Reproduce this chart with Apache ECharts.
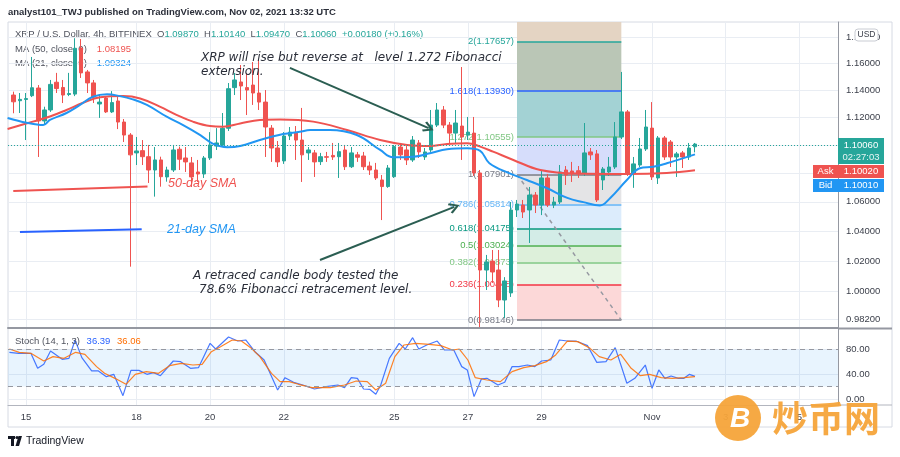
<!DOCTYPE html>
<html><head><meta charset="utf-8">
<script src="https://cdn.jsdelivr.net/npm/echarts@6/dist/echarts.min.js"></script>
<style>html,body{margin:0;padding:0;background:#fff}#c{width:900px;height:457px}</style>
</head><body><div id="c"></div>
<script>
const FONT = 'Liberation Sans, Arial, sans-serif';
const NOTE_FONT = '"DejaVu Sans", sans-serif';
// ---------- candles (4h bars, bar 0 = Oct 15 00:00) ----------
const firstBar = -2;
const opens = [1.1363,1.1321,1.1330,1.1358,1.1415,1.1173,1.1253,1.1458,1.1419,1.1367,1.1370,1.1716,1.1535,1.1453,1.1297,1.1341,1.1239,1.1319,1.1165,1.1071,1.0943,1.0959,1.0916,1.0822,1.0893,1.0773,1.0822,1.0969,1.0907,1.0872,1.0808,1.0794,1.0907,1.0992,1.1000,1.1120,1.1418,1.1460,1.1418,1.1437,1.1378,1.1311,1.1121,1.0978,1.0886,1.1064,1.1085,1.1035,1.0943,1.0943,1.0881,1.0916,1.0925,1.0916,1.0964,1.0845,1.0929,1.0921,1.0850,1.0822,1.0752,1.0706,1.0775,1.0985,1.0964,1.0893,1.1014,1.0914,1.0964,1.1143,1.1253,1.1143,1.1085,1.1136,1.1071,1.1085,1.0801,1.0140,1.0199,1.0140,0.9944,0.9990,1.0544,1.0578,1.0544,1.0647,1.0578,1.0766,1.0578,1.0599,1.0822,1.0815,1.0817,1.0801,1.0950,1.0936,1.0752,1.0808,1.0843,1.1057,1.1239,1.0801,1.0857,1.0971,1.1121,1.0766,1.1050,1.1021,1.0914,1.0943,1.0914,1.0987];
const highs = [1.1388,1.1378,1.1378,1.1648,1.1437,1.1277,1.1475,1.1528,1.1475,1.1528,1.1791,1.1785,1.1550,1.1475,1.1363,1.1355,1.1392,1.1348,1.1187,1.1085,1.1057,1.1035,1.1000,1.0985,1.0916,1.0845,1.1000,1.0988,1.0985,1.0914,1.0893,1.0921,1.1092,1.1121,1.1231,1.1452,1.1528,1.1587,1.1528,1.1610,1.1625,1.1400,1.1143,1.1028,1.1092,1.1129,1.1136,1.1268,1.0985,1.0964,1.0943,1.0950,1.1014,1.1014,1.1000,1.0985,1.0950,1.0950,1.0881,1.0872,1.0787,1.0857,1.1000,1.1014,1.0992,1.1064,1.1035,1.0978,1.1253,1.1304,1.1282,1.1165,1.1253,1.1572,1.1202,1.1202,1.0822,1.0240,1.0273,1.0273,1.0093,1.0599,1.0613,1.0613,1.0703,1.0668,1.0822,1.0794,1.0634,1.0857,1.0850,1.0879,1.0850,1.1158,1.0978,1.0964,1.0843,1.0914,1.1165,1.1535,1.1253,1.0914,1.1050,1.1253,1.1311,1.1064,1.1064,1.1035,1.0950,1.0957,1.1014,1.1014];
const lows = [1.1229,1.1231,1.1035,1.1348,1.0914,1.1143,1.1239,1.1378,1.1304,1.1355,1.1355,1.1490,1.1378,1.1304,1.1195,1.1231,1.1231,1.1114,1.1021,1.0162,1.0857,1.0857,1.0731,1.0636,1.0705,1.0740,1.0808,1.0822,1.0808,1.0703,1.0738,1.0766,1.0893,1.0964,1.0985,1.1100,1.1363,1.1326,1.1216,1.1290,1.1253,1.0914,1.0879,1.0843,1.0865,1.1035,1.0893,1.0738,1.0893,1.0773,1.0857,1.0879,1.0893,1.0766,1.0822,1.0836,1.0879,1.0822,1.0787,1.0752,1.0475,1.0697,1.0766,1.0893,1.0857,1.0879,1.0907,1.0893,1.0950,1.1129,1.1121,1.1014,1.1014,1.0893,1.1035,1.0780,0.9770,1.0009,1.0055,0.9898,0.9828,0.9964,1.0496,1.0489,1.0320,1.0523,1.0509,1.0564,1.0557,1.0585,1.0717,1.0738,1.0766,1.0780,1.0893,1.0599,1.0682,1.0780,1.0829,1.1042,1.0780,1.0697,1.0843,1.0957,1.0752,1.0724,1.0893,1.0843,1.0773,1.0836,1.0893,1.0947];
const closes = [1.1313,1.1331,1.1337,1.1417,1.1173,1.1253,1.1442,1.1411,1.1363,1.1374,1.1714,1.1528,1.1453,1.1348,1.1311,1.1239,1.1307,1.1165,1.1071,1.0929,1.0957,1.0916,1.0822,1.0893,1.0775,1.0822,1.0964,1.0898,1.0879,1.0773,1.0794,1.0907,1.1000,1.1014,1.1120,1.1410,1.1475,1.1430,1.1400,1.1378,1.1311,1.1129,1.0978,1.0879,1.1064,1.1092,1.1035,1.0929,1.0964,1.0879,1.0916,1.0912,1.0914,1.0952,1.0845,1.0943,1.0912,1.0845,1.0822,1.0766,1.0706,1.0836,1.0988,1.0929,1.0893,1.1035,1.0950,1.0950,1.1143,1.1253,1.1143,1.1085,1.1158,1.1057,1.1092,1.0801,1.0140,1.0193,1.0127,0.9944,1.0068,1.0544,1.0585,1.0530,1.0647,1.0578,1.0766,1.0578,1.0599,1.0808,1.0787,1.0794,1.0794,1.0943,1.0929,1.0613,1.0829,1.0843,1.1057,1.1239,1.0801,1.0865,1.0971,1.1129,1.0773,1.1050,1.0914,1.0914,1.0936,1.0914,1.0978,1.1006];
// ---------- moving averages ----------
const ma50Idx = [-3,1.1,3.9,6.6,9.3,12.1,15.8,18.6,21.8,24.6,27.2,30,32.1,34.9,38.1,41.4,46.8,52.3,57.7,62.1,65.8,68.6,71.9,74,76.1,79.4,83.8,89.8,97.9,104.4,109];
const ma50 = [1.1115,1.1168,1.1205,1.1253,1.1306,1.1346,1.1355,1.1338,1.1277,1.1216,1.1168,1.1136,1.1131,1.1155,1.1180,1.1183,1.1168,1.1107,1.1035,1.1000,1.0992,1.1007,1.1012,1.0988,1.0952,1.0893,1.0822,1.0797,1.0794,1.0801,1.08195];
const ma21Idx = [-3,0.1,2.8,3.9,6.6,8.8,10.9,13.2,15.3,17.4,19.7,23,25.6,28.4,30.5,32.8,34.9,38.1,41.9,44.6,46.3,49.5,53.9,57.7,59.8,63.1,65.8,68.6,71.9,74,75.5,78.9,81.6,84.9,88.2,90.8,93.5,95.2,97.9,100,102.2,104.4,109];
const ma21 = [1.1195,1.1160,1.1143,1.1180,1.1231,1.1290,1.1350,1.1368,1.1355,1.1331,1.1290,1.1202,1.1143,1.1071,1.1007,1.0983,1.0992,1.1035,1.1078,1.1094,1.1107,1.1107,1.1071,1.0964,1.0912,1.0916,1.0940,1.0969,1.0976,1.0958,1.0870,1.0797,1.0752,1.0694,1.0627,1.0598,1.0575,1.0627,1.0752,1.0834,1.0845,1.0869,1.09324];
// ---------- stochastic (14,1,3) ----------
const stochKIdx = [-2.7,-1.2,0.8,1.9,2.9,4,5.9,7,8,9.1,10.7,11.8,13.1,14.3,15.8,17.1,18.4,19.7,20.8,21.9,24,25.2,26.8,28.1,30,30.9,33,34.5,35.8,37.3,38.8,41,42.2,43.6,45.1,47,48.9,50.8,51.9,53,54,55,56,57,57.8,59.2,60.8,61.8,63,64,65.3,67,68.2,69.7,71,71.9,73,74.2,75.1,76.9,78,79.2,80.3,81.7,82.9,84,85.5,86.9,88.2,89.6,91.5,93,94.5,96,97.9,99.2,100.9,102,103.1,104.1,105.1,106.3,107.2,108.1,109];
const stochK = [75.3,73.7,73.7,49.5,55.9,77.4,64,65.6,95.2,66.7,45.2,45.2,36,39.8,5.4,46.2,46.2,39.8,42.5,37.6,61.3,60.2,49.5,50.5,89.8,80.6,100,93.5,95.2,76.3,62.9,14.5,34.4,26.9,22.6,16.1,19.9,22.6,18.3,34.4,33.3,16.1,15.6,7.5,22.6,65.6,89.8,80.6,98.9,80.6,87.1,93.5,79,79,52.2,46.8,3.8,32.3,33.3,22.6,26.9,52.2,52.2,54.8,52.2,61.3,62.9,95.2,93.5,93.5,86,59.1,60.2,82.8,25.3,33.3,54.8,17.2,46.8,33.3,37.1,33.3,33.3,39.8,36.39];
const stochDIdx = [-2.7,-1.1,0.8,2.9,4.4,6.2,8.1,9.6,11.5,12.8,14.5,16.3,17.8,19.6,21.6,23.4,25.3,27.2,28.7,30.2,31.7,33.6,35.1,36.6,38.1,40,41.4,42.9,44.4,46.6,49.6,51.9,53.8,55.6,57,58.6,60.1,61.6,63.5,65.7,67.6,69.5,70.6,72,73.2,75.1,77.3,79.2,81.1,82.9,84.8,86.3,88.2,89.9,91.9,93.4,95.3,96.9,98.6,100.1,101.6,103.5,105.3,107.2,109];
const stochD = [80.6,75.3,73.7,61.3,68.3,65.6,75.3,72,52.2,41.4,33.3,23.7,39.8,44.1,41.4,53.8,57.5,54.8,55.9,76.3,84.4,95.2,93.5,82.8,68.3,41.4,28,28,23.7,18.3,18.3,22.6,29,28,14.5,25.3,68.3,87.1,89.8,88.2,86,79,80.6,62.9,34.4,30.6,28,44.1,50.5,53.8,60.2,71,93.5,92.5,81.7,68.3,62.9,72,49.5,37.6,39.8,34.4,33.3,34.4,36.06];
// ---------- fibonacci drawing ----------
const fibStart = 80, fibEnd = 97;
const fibLevels = [2, 1.618, 1.272, 1, 0.786, 0.618, 0.5, 0.382, 0.236, 0];
const fibPrices = [1.17657, 1.13930, 1.10555, 1.07901, 1.05814, 1.04175, 1.03024, 1.01873, 1.00448, 0.98146];
const fibLineColors = ['#26a69a','#2962ff','#81c784','#787b86','#64b5f6','#089981','#4caf50','#81c784','#f23645','#787b86'];
const fibFills = ['#bac6b6','#a3d2d4','#d6ddfb','#e4e4e6','#dcecfc','#d3ece7','#ddf0da','#e8f5e5','#fcd8d8'];
const fibTopFill = '#e4d4c3';
// ---------- axes ----------
const xMin = -2.93, xMax = 132.3;
const dayTicks = [0, 18, 30, 42, 60, 72, 84, 102, 114, 126];
const dayLabels = ['15','18','20','22','25','27','29','Nov','3','5'];
const yMin = 0.97645, yMax = 1.19161;
const priceTicks = [0.982, 1.00, 1.02, 1.04, 1.06, 1.08, 1.10, 1.12, 1.14, 1.16, 1.18];
const stochTicks = [0, 40, 80];
const lastPrice = 1.1006;
// annotations (bar index, price)
const arrowUp = [[43.0, 1.1565], [65.6, 1.1121]];
const arrowDown = [[47.9, 1.0206], [69.8, 1.0565]];
const sma50Mark = [[-2.07, 1.0675], [19.8, 1.0706]];
const sma21Mark = [[-0.98, 1.0394], [18.85, 1.0413]];
const trendLine = [[80, 1.07901], [97, 0.98146]];

const GRID = '#e9edf3';
const candleData = opens.map((o, k) => [firstBar + k, o, closes[k], lows[k], highs[k]]);
const pairs = (a, b) => a.map((v, k) => [v, b[k]]);

const fibAreas = [[{xAxis: fibStart, yAxis: yMax, itemStyle: {color: fibTopFill}}, {xAxis: fibEnd, yAxis: fibPrices[0]}]]
  .concat(fibFills.map((c, k) => [{xAxis: fibStart, yAxis: fibPrices[k], itemStyle: {color: c}}, {xAxis: fibEnd, yAxis: fibPrices[k + 1]}]));
const fibLines = fibLevels.map((lv, k) => [
  {coord: [fibStart, fibPrices[k]], lineStyle: {color: fibLineColors[k]},
   label: {color: fibLineColors[k], formatter: lv + '(' + fibPrices[k].toFixed(5) + ')'}},
  {coord: [fibEnd, fibPrices[k]]}
]);
const chevron = 'path://M5,0 L10,8 L8.5,9.3 L5,3.2 L1.5,9.3 L0,8 Z';

const chart = echarts.init(document.getElementById('c'), null, {renderer: 'canvas'});
const axisLabelStyle = {color: '#3b3f4a', fontSize: 9.5, fontFamily: FONT};
chart.setOption({
  animation: false,
  backgroundColor: '#ffffff',
  grid: [
    {left: 8, top: 22, width: 830, height: 306},
    {left: 8, top: 329, width: 830, height: 76}
  ],
  xAxis: [
    {gridIndex: 0, type: 'value', min: xMin, max: xMax,
     axisLine: {show: true, onZero: false, lineStyle: {color: '#9598a1', width: 2}},
     axisTick: {show: false, customValues: dayTicks}, axisLabel: {show: false},
     splitLine: {show: true, lineStyle: {color: GRID}}},
    {gridIndex: 1, type: 'value', min: xMin, max: xMax,
     axisLine: {show: true, onZero: false, lineStyle: {color: '#b2b5be', width: 1}},
     axisTick: {show: false, customValues: dayTicks},
     axisLabel: Object.assign({customValues: dayTicks, margin: 7,
       formatter: v => dayLabels[dayTicks.indexOf(Math.round(v))]}, axisLabelStyle),
     splitLine: {show: true, lineStyle: {color: GRID}}}
  ],
  yAxis: [
    {gridIndex: 0, type: 'log', logBase: 10, min: yMin, max: yMax, position: 'right',
     axisLine: {show: true, onZero: false, lineStyle: {color: '#9598a1'}},
     axisTick: {show: false, customValues: priceTicks},
     axisLabel: Object.assign({customValues: priceTicks, margin: 8, formatter: v => Number(v).toFixed(5)}, axisLabelStyle),
     splitLine: {show: true, lineStyle: {color: GRID}}},
    {gridIndex: 1, type: 'value', min: -9.7, max: 112.9, position: 'right',
     axisLine: {show: true, onZero: false, lineStyle: {color: '#9598a1'}},
     axisTick: {show: false, customValues: stochTicks},
     axisLabel: Object.assign({customValues: stochTicks, margin: 8, formatter: v => Number(v).toFixed(2)}, axisLabelStyle),
     splitLine: {show: true, lineStyle: {color: GRID}}}
  ],
  series: [
    {type: 'line', name: 'fib', xAxisIndex: 0, yAxisIndex: 0, data: [], z: 1, silent: true,
     markArea: {silent: true, z: 1, data: fibAreas},
     markLine: {silent: true, z: 1, symbol: ['none', 'none'],
       lineStyle: {type: 'solid', width: 1.5},
       label: {show: true, position: 'start', distance: 3, fontSize: 9.5, fontFamily: FONT, padding: [0, 0, 12, 0]},
       data: fibLines.concat([[
         {coord: trendLine[0], lineStyle: {color: '#9598a1', type: [4, 4], width: 1.5}, label: {show: false}},
         {coord: trendLine[1]}]])
     }},
    {type: 'candlestick', name: 'XRPUSD', xAxisIndex: 0, yAxisIndex: 0, data: candleData,
     encode: {x: 0, y: [1, 2, 3, 4]}, barWidth: 4, z: 3,
     itemStyle: {color: '#26a69a', color0: '#ef5350', borderColor: '#26a69a', borderColor0: '#ef5350', borderWidth: 1},
     markLine: {silent: true, symbol: ['none', 'none'], label: {show: false},
       lineStyle: {color: '#26a69a', type: [1, 2], width: 1},
       data: [{yAxis: lastPrice}]}},
    {type: 'line', name: 'MA50', xAxisIndex: 0, yAxisIndex: 0, data: pairs(ma50Idx, ma50), smooth: 0.4,
     showSymbol: false, z: 4, lineStyle: {color: '#ef5350', width: 2}},
    {type: 'line', name: 'MA21', xAxisIndex: 0, yAxisIndex: 0, data: pairs(ma21Idx, ma21), smooth: 0.4,
     showSymbol: false, z: 4, lineStyle: {color: '#2196f3', width: 2}},
    {type: 'line', name: 'notes', xAxisIndex: 0, yAxisIndex: 0, data: [], z: 6, silent: true,
     markLine: {silent: true, z: 6, symbol: ['none', 'none'], label: {show: false},
       data: [
         [{coord: sma50Mark[0], lineStyle: {color: '#ef5350', width: 2, type: 'solid'}}, {coord: sma50Mark[1]}],
         [{coord: sma21Mark[0], lineStyle: {color: '#2962ff', width: 2, type: 'solid'}}, {coord: sma21Mark[1]}]
       ]}},
    {type: 'line', name: 'arrows', xAxisIndex: 0, yAxisIndex: 0, data: [], z: 6, silent: true,
     markLine: {silent: true, z: 6, symbol: ['none', chevron], symbolSize: [11, 11], label: {show: false},
       lineStyle: {color: '#2b5e52', width: 2, type: 'solid'},
       data: [
         [{coord: arrowUp[0]}, {coord: arrowUp[1]}],
         [{coord: arrowDown[0]}, {coord: arrowDown[1]}]
       ]}},
    {type: 'line', name: '%K', xAxisIndex: 1, yAxisIndex: 1, data: pairs(stochKIdx, stochK),
     showSymbol: false, z: 4, lineStyle: {color: '#2962ff', width: 1.2, opacity: 0.85},
     markArea: {silent: true, itemStyle: {color: 'rgba(33,150,243,0.10)'},
       data: [[{xAxis: xMin, yAxis: 20}, {xAxis: xMax, yAxis: 80}]]},
     markLine: {silent: true, symbol: ['none', 'none'], label: {show: false},
       lineStyle: {color: '#9598a1', type: [5, 4], width: 1},
       data: [{yAxis: 80}, {yAxis: 20}]}},
    {type: 'line', name: '%D', xAxisIndex: 1, yAxisIndex: 1, data: pairs(stochDIdx, stochD),
     showSymbol: false, z: 4, lineStyle: {color: '#ff6d00', width: 1.2, opacity: 0.85}}
  ],
  graphic: [
    {type: 'rect', z: 0, shape: {x: 8, y: 22, width: 884, height: 405}, style: {fill: 'none', stroke: '#d6dae3', lineWidth: 1}},
    {type: 'line', z: 0, shape: {x1: 838, y1: 328.5, x2: 892, y2: 328.5}, style: {stroke: '#9598a1', lineWidth: 2}},
    {type: 'line', z: 0, shape: {x1: 838, y1: 405, x2: 892, y2: 405}, style: {stroke: '#b2b5be', lineWidth: 1}},
    {type: 'text', z: 0, x: 8, y: 12, style: {text: 'analyst101_TWJ published on TradingView.com, Nov 02, 2021 13:32 UTC',
      font: 'bold 9.5px ' + FONT, fill: '#2a2e39', verticalAlign: 'middle'}},
    {type: 'text', z: 0, x: 15, y: 34, style: {
      text: '{g|XRP / U.S. Dollar, 4h, BITFINEX}  {g|O}{v|1.09870}  {g|H}{v|1.10140}  {g|L}{v|1.09470}  {g|C}{v|1.10060}  {v|+0.00180 (+0.16%)}',
      verticalAlign: 'middle', font: '9.5px ' + FONT,
      rich: {g: {fill: '#50535e', font: '9.5px ' + FONT}, v: {fill: '#26a69a', font: '9.5px ' + FONT}}}},
    {type: 'text', z: 0, x: 15, y: 49, style: {text: '{g|MA (50, close, 0)}   {r|1.08195}', verticalAlign: 'middle',
      rich: {g: {fill: '#50535e', font: '9.5px ' + FONT}, r: {fill: '#ef5350', font: '9.5px ' + FONT}}}},
    {type: 'text', z: 0, x: 15, y: 63, style: {text: '{g|MA (21, close, 0)}   {b|1.09324}', verticalAlign: 'middle',
      rich: {g: {fill: '#50535e', font: '9.5px ' + FONT}, b: {fill: '#2196f3', font: '9.5px ' + FONT}}}},
    {type: 'text', z: 10, x: 15, y: 341, style: {text: '{g|Stoch (14, 1, 3)}  {b|36.39}  {o|36.06}', verticalAlign: 'middle',
      rich: {g: {fill: '#50535e', font: '9.5px ' + FONT}, b: {fill: '#2962ff', font: '9.5px ' + FONT}, o: {fill: '#ff6d00', font: '9.5px ' + FONT}}}},
    // annotation texts
    {type: 'text', z: 10, x: 201, y: 58, style: {text: 'XRP will rise but reverse at   level 1.272 Fibonacci', font: 'italic 12px ' + NOTE_FONT, fill: '#2a2e39', verticalAlign: 'middle'}},
    {type: 'text', z: 10, x: 201, y: 72, style: {text: 'extension.', font: 'italic 12px ' + NOTE_FONT, fill: '#2a2e39', verticalAlign: 'middle'}},
    {type: 'text', z: 10, x: 193, y: 276, style: {text: 'A retraced candle body tested the', font: 'italic 12px ' + NOTE_FONT, fill: '#2a2e39', verticalAlign: 'middle'}},
    {type: 'text', z: 10, x: 199, y: 290, style: {text: '78.6% Fibonacci retracement level.', font: 'italic 12px ' + NOTE_FONT, fill: '#2a2e39', verticalAlign: 'middle'}},
    {type: 'text', z: 10, x: 168, y: 184, style: {text: '50-day SMA', font: 'italic 12.5px ' + FONT, fill: '#ef5350', verticalAlign: 'middle'}},
    {type: 'text', z: 10, x: 167, y: 230, style: {text: '21-day SMA', font: 'italic 12.5px ' + FONT, fill: '#2196f3', verticalAlign: 'middle'}},
    // price scale tags
    {type: 'rect', z: 10, shape: {x: 855, y: 29, width: 23, height: 12, r: 3}, style: {fill: '#fff', stroke: '#c9ccd3'}},
    {type: 'text', z: 11, x: 866.5, y: 35, style: {text: 'USD', font: '8.5px ' + FONT, fill: '#3b3f4a', align: 'center', verticalAlign: 'middle'}},
    {type: 'rect', z: 10, shape: {x: 838, y: 138, width: 46, height: 26}, style: {fill: '#26a69a'}},
    {type: 'text', z: 11, x: 861, y: 145, style: {text: '1.10060', font: '9.5px ' + FONT, fill: '#fff', align: 'center', verticalAlign: 'middle'}},
    {type: 'text', z: 11, x: 861, y: 157, style: {text: '02:27:03', font: '9.5px ' + FONT, fill: '#e6f5f3', align: 'center', verticalAlign: 'middle'}},
    {type: 'rect', z: 10, shape: {x: 813, y: 165, width: 71, height: 13}, style: {fill: '#ef5350'}},
    {type: 'text', z: 11, x: 825.5, y: 171.5, style: {text: 'Ask', font: '9.5px ' + FONT, fill: '#fff', align: 'center', verticalAlign: 'middle'}},
    {type: 'text', z: 11, x: 861, y: 171.5, style: {text: '1.10020', font: '9.5px ' + FONT, fill: '#fff', align: 'center', verticalAlign: 'middle'}},
    {type: 'rect', z: 10, shape: {x: 813, y: 179, width: 71, height: 13}, style: {fill: '#2196f3'}},
    {type: 'text', z: 11, x: 825.5, y: 185.5, style: {text: 'Bid', font: '9.5px ' + FONT, fill: '#fff', align: 'center', verticalAlign: 'middle'}},
    {type: 'text', z: 11, x: 861, y: 185.5, style: {text: '1.10010', font: '9.5px ' + FONT, fill: '#fff', align: 'center', verticalAlign: 'middle'}},
    // TradingView footer
    {type: 'rect', z: 10, shape: {x: 8, y: 436, width: 7, height: 3}, style: {fill: '#131722'}},
    {type: 'rect', z: 10, shape: {x: 11, y: 436, width: 3, height: 10}, style: {fill: '#131722'}},
    {type: 'circle', z: 10, shape: {cx: 17, cy: 437.5, r: 1.6}, style: {fill: '#131722'}},
    {type: 'polygon', z: 10, shape: {points: [[18.5, 436], [22, 436], [19, 446], [15.5, 446]]}, style: {fill: '#131722'}},
    {type: 'text', z: 10, x: 26, y: 441, style: {text: 'TradingView', font: '10.5px ' + FONT, fill: '#131722', verticalAlign: 'middle'}},
    // watermark
    {type: 'circle', z: 20, shape: {cx: 738, cy: 418, r: 23}, style: {fill: '#f6a43a', opacity: 0.95}},
    {type: 'text', z: 21, x: 740, y: 419, style: {text: 'B', font: 'italic bold 28px ' + FONT, fill: '#fff', align: 'center', verticalAlign: 'middle'}},
    {type: 'text', z: 20, x: 772, y: 418, style: {text: '炒币网', font: 'bold 36px "Noto Sans CJK SC"', fill: '#f6a43a', opacity: 0.95, verticalAlign: 'middle'}}
  ]
});
</script></body></html>
